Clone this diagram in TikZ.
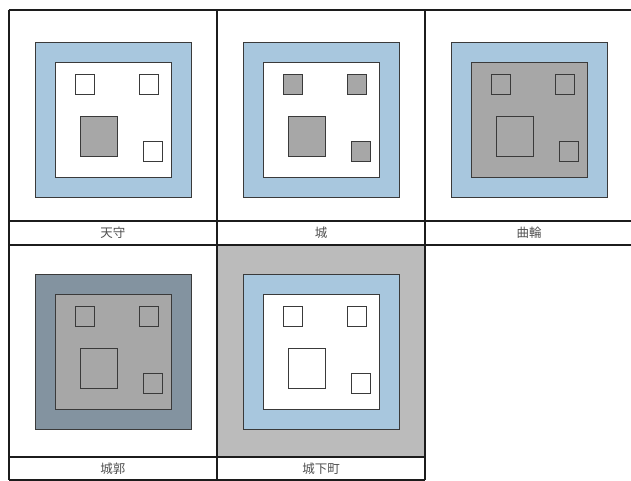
\documentclass[tikz,border=0pt]{standalone}
\usepackage{fontspec}
\newfontfamily\jpfont{Noto Sans CJK JP}
\definecolor{ringblue}{HTML}{A8C7DE}
\definecolor{midgray}{HTML}{A7A7A7}
\definecolor{lightgray2}{HTML}{BBBBBB}
\definecolor{slate}{HTML}{8393A0}
\definecolor{edge}{HTML}{3A3A3A}
\definecolor{gridline}{HTML}{1C1C1C}
\definecolor{captxt}{HTML}{505050}
\tikzset{
  shapeline/.style={draw=edge, line width=0.9pt},
  gridl/.style={draw=gridline, line width=2pt},
  captionlbl/.style={font=\jpfont\fontsize{12.5}{13}\selectfont, text=captxt, inner sep=0pt}
}
% #1 x0, #2 y0, #3 outer fill, #4 ring fill, #5 inner fill, #6 small fill, #7 big fill, #8 dy, #9 name
\newcommand\mypanel[9]{%
  \begin{scope}[shift={(#1,#2)}]
    \fill[#3] (0,0) rectangle (208.25,211);
    \draw[shapeline, fill=#4] (26.5,32+#8) rectangle (182.5,187+#8);
    \draw[shapeline, fill=#5] (46.5,52+#8) rectangle (162.5,167+#8);
    \draw[shapeline, fill=#6] (66.5,64+#8) rectangle (85.5,84+#8);
    \draw[shapeline, fill=#6] (130.5,64+#8) rectangle (149.5,84+#8);
    \draw[shapeline, fill=#7] (71.5,106+#8) rectangle (108.5,146+#8);
    \draw[shapeline, fill=#6] (134.5,131+#8) rectangle (153.5,151+#8);
    \coordinate (#9) at (104,0);
  \end{scope}%
}
\begin{document}
\begin{tikzpicture}[x=1pt,y=-1pt]
\useasboundingbox (0,0) rectangle (631,481);
\clip (0,0) rectangle (631,481);
\fill[white] (0,0) rectangle (631,481);
% panels
\mypanel{8.5}{10}{white}{ringblue}{white}{white}{midgray}{0}{p1}
\mypanel{217}{10}{white}{ringblue}{white}{midgray}{midgray}{0}{p2}
\mypanel{425}{10}{white}{ringblue}{midgray}{midgray}{midgray}{0}{p3}
\mypanel{8.5}{245}{white}{slate}{midgray}{midgray}{midgray}{-3}{p4}
\mypanel{217}{245}{lightgray2}{ringblue}{white}{white}{white}{-3}{p5}
% grid
\draw[gridl] (8.5,10) -- (640,10);
\draw[gridl] (8.5,221) -- (640,221);
\draw[gridl] (8.5,245) -- (640,245);
\draw[gridl] (8.5,457) -- (425,457);
\draw[gridl] (8.5,479.5) -- (425,479.5);
\draw[gridl] (8.5,10) -- (8.5,479.5);
\draw[gridl] (217,10) -- (217,479.5);
\draw[gridl] (425,10) -- (425,479.5);
% captions
\node[captionlbl] (c1) at (112.75,233) {天守};
\node[captionlbl] (c2) at (321,233) {城};
\node[captionlbl] (c3) at (529,233) {曲輪};
\node[captionlbl] (c4) at (112.75,468.5) {城郭};
\node[captionlbl] (c5) at (321,468.5) {城下町};
\end{tikzpicture}
\end{document}
